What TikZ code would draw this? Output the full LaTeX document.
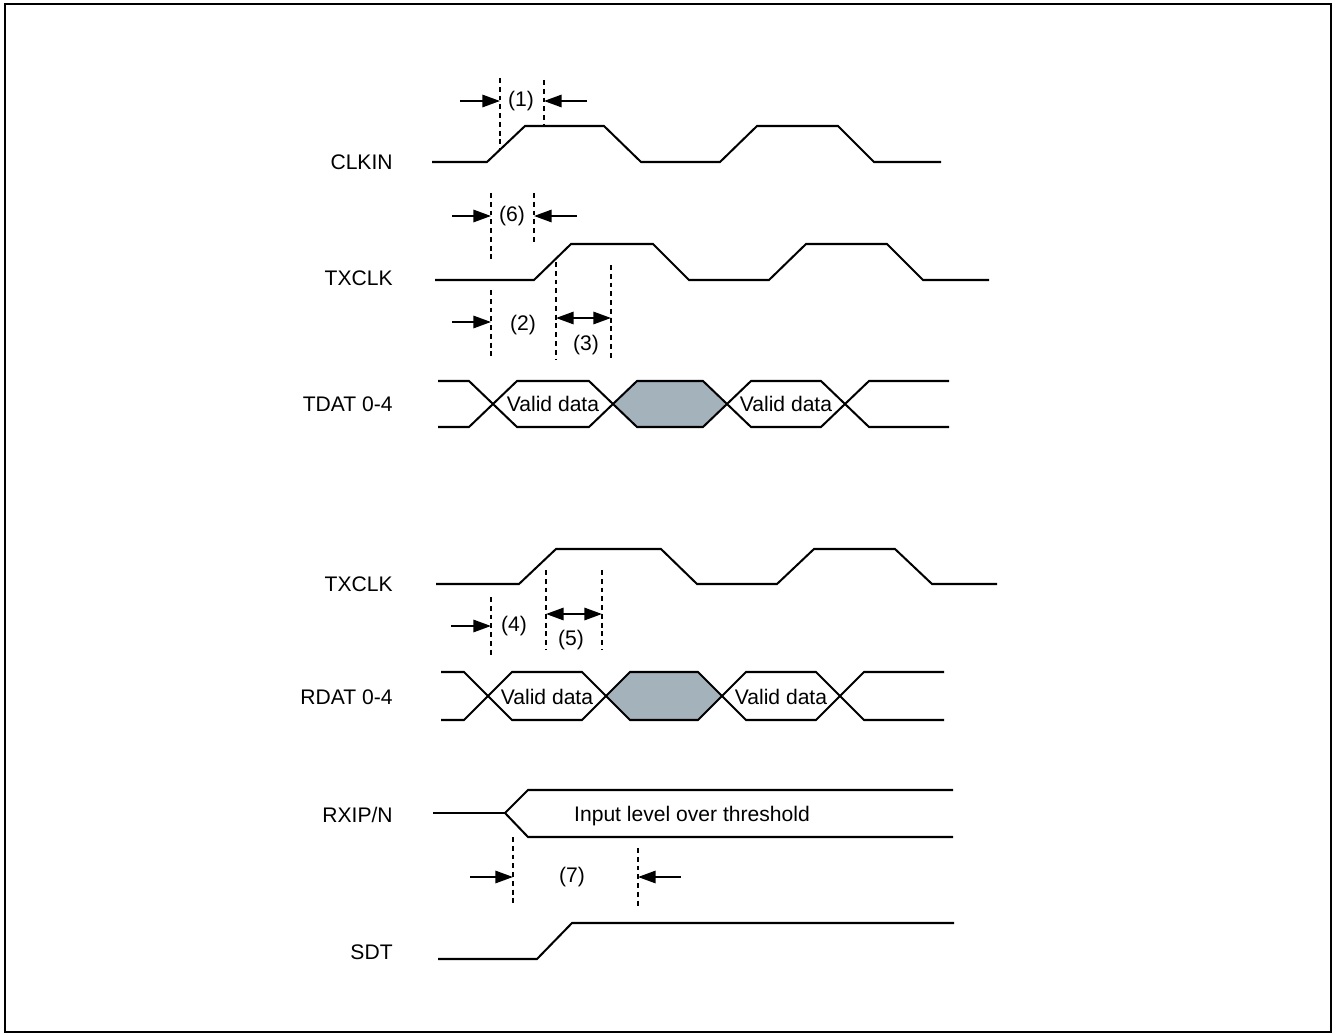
\documentclass[tikz,border=0pt]{standalone}
\usepackage{fontspec}
\setmainfont{Liberation Sans}
\usepackage{tikz}
\usetikzlibrary{arrows.meta, positioning}
\definecolor{gapgrey}{RGB}{164,178,188}

\begin{document}
\begin{tikzpicture}[
    x=0.02cm, y=-0.02cm,
    sig/.style={line width=1.15pt},
    guide/.style={line width=1.15pt, dash pattern=on 2.8pt off 2.2pt},
    dim/.style={line width=1.15pt, -{Triangle[length=10pt, width=7pt]}},
    dimboth/.style={line width=1.15pt, {Triangle[length=10pt, width=7pt]}-{Triangle[length=10pt, width=7pt]}},
    signame/.style={anchor=east, inner sep=0pt, font=\fontsize{12}{14}\selectfont},
    tag/.style={inner sep=0pt, font=\fontsize{12}{14}\selectfont}
]
    \useasboundingbox (0,0) rectangle (1333,1034);
    \draw[line width=1.2pt] (5,4) rectangle (1331,1032);

    % 信号名
    \node[signame] (clkin) at (393,162) {CLKIN};
    \node[signame] (txclka) at (393,278) {TXCLK};
    \node[signame] (tdat) at (393,404) {TDAT 0-4};
    \node[signame] (txclkb) at (393,584) {TXCLK};
    \node[signame] (rdat) at (393,697) {RDAT 0-4};
    \node[signame] (rxip) at (393,815) {RXIP/N};
    \node[signame] (sdt) at (393,952) {SDT};

    % CLKIN
    \draw[sig] (432,162) -- (487,162) -- (525,126) -- (604,126) -- (641,162) -- (720,162)
        -- (757,126) -- (838,126) -- (874,162) -- (941,162);
    \draw[guide] (500,78) -- (500,150);
    \draw[guide] (544,80) -- (544,126);
    \coordinate (g1a) at (500,101);
    \coordinate (g1b) at (544,101);
    \coordinate (g1l) at (460,101);
    \coordinate (g1r) at (587,101);
    \draw[dim] (g1l) -- (g1a);
    \draw[dim] (g1r) -- (g1b);
    \node[tag] (t1) at (521,101) {(1)};

    % TXCLK（发送）
    \draw[sig] (435,280) -- (534,280) -- (571,244) -- (653,244) -- (689,280) -- (769,280)
        -- (806,244) -- (887,244) -- (923,280) -- (989,280);
    \draw[guide] (491,193) -- (491,262);
    \draw[guide] (534,193) -- (534,245);
    \coordinate (g6a) at (491,216);
    \coordinate (g6b) at (534,216);
    \coordinate (g6l) at (452,216);
    \coordinate (g6r) at (577,216);
    \draw[dim] (g6l) -- (g6a);
    \draw[dim] (g6r) -- (g6b);
    \node[tag] (t6) at (512,216) {(6)};

    \draw[guide] (491,290) -- (491,360);
    \draw[guide] (556,262) -- (556,360);
    \draw[guide] (611,265) -- (611,360);
    \coordinate (g2a) at (491,322);
    \coordinate (g2l) at (452,322);
    \coordinate (g3a) at (556,318);
    \coordinate (g3b) at (611,318);
    \draw[dim] (g2l) -- (g2a);
    \draw[dimboth] (g3a) -- (g3b);
    \node[tag] (t2) at (523,325) {(2)};
    \node[tag] (t3) at (586,345) {(3)};

    % TDAT 0-4
    \fill[gapgrey] (613,404) -- (637,381) -- (703,381) -- (727,404) -- (703,427) -- (637,427) -- cycle;
    \draw[sig] (438,381) -- (469,381) -- (517,427) -- (589,427) -- (637,381) -- (703,381)
        -- (751,427) -- (821,427) -- (869,381) -- (949,381);
    \draw[sig] (438,427) -- (469,427) -- (517,381) -- (589,381) -- (637,427) -- (703,427)
        -- (751,381) -- (821,381) -- (869,427) -- (949,427);
    \node[tag] (tv1) at (553,404) {Valid data};
    \node[tag] (tv2) at (786,404) {Valid data};

    % TXCLK（接收）
    \draw[sig] (436,584) -- (519,584) -- (556,549) -- (661,549) -- (697,584) -- (777,584)
        -- (814,549) -- (895,549) -- (932,584) -- (997,584);
    \draw[guide] (491,597) -- (491,658);
    \draw[guide] (546,570) -- (546,650);
    \draw[guide] (602,570) -- (602,650);
    \coordinate (g4a) at (491,626);
    \coordinate (g4l) at (451,626);
    \coordinate (g5a) at (546,614);
    \coordinate (g5b) at (602,614);
    \draw[dim] (g4l) -- (g4a);
    \draw[dimboth] (g5a) -- (g5b);
    \node[tag] (t4) at (514,626) {(4)};
    \node[tag] (t5) at (571,640) {(5)};

    % RDAT 0-4
    \fill[gapgrey] (606,696) -- (630,672) -- (698,672) -- (722,696) -- (698,720) -- (630,720) -- cycle;
    \draw[sig] (441,672) -- (464,672) -- (512,720) -- (582,720) -- (630,672) -- (698,672)
        -- (746,720) -- (816,720) -- (864,672) -- (944,672);
    \draw[sig] (441,720) -- (464,720) -- (512,672) -- (582,672) -- (630,720) -- (698,720)
        -- (746,672) -- (816,672) -- (864,720) -- (944,720);
    \node[tag] (rv1) at (547,697) {Valid data};
    \node[tag] (rv2) at (781,697) {Valid data};

    % RXIP/N
    \draw[sig] (433,813) -- (505,813);
    \draw[sig] (953,790) -- (528,790) -- (505,813) -- (528,837) -- (953,837);
    \node[tag] (lvl) at (692,816) {Input level over threshold};
    \draw[guide] (513,837) -- (513,903);
    \draw[guide] (638,848) -- (638,907);
    \coordinate (g7a) at (513,877);
    \coordinate (g7b) at (638,877);
    \coordinate (g7l) at (470,877);
    \coordinate (g7r) at (681,877);
    \draw[dim] (g7l) -- (g7a);
    \draw[dim] (g7r) -- (g7b);
    \node[tag] (t7) at (572,877) {(7)};

    % SDT
    \draw[sig] (438,959) -- (537,959) -- (572,923) -- (954,923);
\end{tikzpicture}
\end{document}
